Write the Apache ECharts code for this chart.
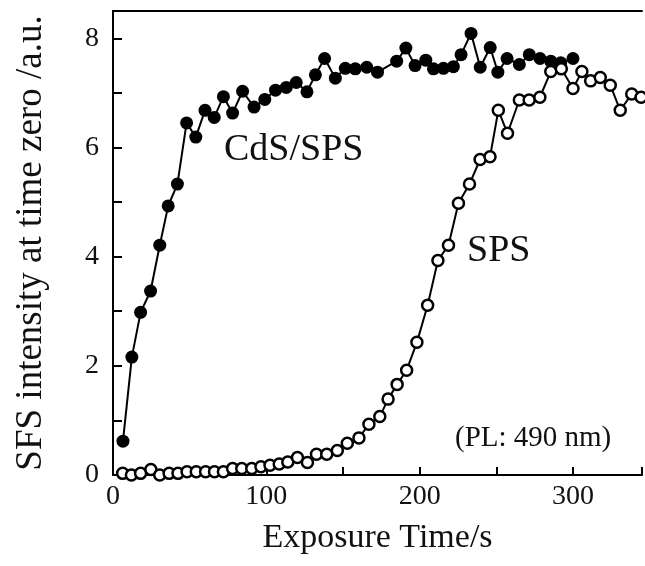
<!DOCTYPE html>
<html>
<head>
<meta charset="utf-8">
<script src="https://cdn.jsdelivr.net/npm/echarts@6/dist/echarts.min.js"></script>
<style>html,body{margin:0;padding:0;background:#fff;}#c{width:645px;height:566px;}</style>
</head>
<body>
<div id="c"></div>
<script>
var cdsTime = [6.5,12.3,18,24.5,30.5,36,42,48,54,60,66,72,78,84.5,92,99,106,113,119.5,126.5,132,138,145,151.5,158,165.5,172.5,185,191,197,204,209,215.5,222,227,233.5,239.5,246,251,257,265,271.5,278.5,285.5,292,300];
var cdsVal = [0.62,2.16,2.98,3.37,4.21,4.93,5.33,6.45,6.19,6.68,6.55,6.93,6.63,7.03,6.74,6.88,7.05,7.1,7.19,7.02,7.33,7.63,7.27,7.45,7.44,7.47,7.38,7.58,7.82,7.5,7.6,7.44,7.45,7.48,7.7,8.09,7.47,7.83,7.38,7.63,7.52,7.7,7.63,7.58,7.55,7.63];
var spsTime = [6.3,12,18,24.7,30.5,36.6,42.4,48.3,54.3,60.4,66.2,72,78,84,90.5,96.5,102.4,108.4,114,120.3,126.8,132.7,139.4,146.3,152.8,160.4,166.9,174,179.4,185.3,191.5,198.2,205.2,211.9,218.8,225.3,232.5,239.4,245.9,251.3,257.3,265,271.4,278.4,285.5,292.4,300,305.8,311.5,317.8,324.3,330.8,338.3,344.4];
var spsVal = [0.03,0.0,0.03,0.10,0.0,0.03,0.03,0.06,0.06,0.06,0.06,0.06,0.12,0.12,0.12,0.15,0.18,0.2,0.24,0.32,0.23,0.38,0.38,0.45,0.58,0.68,0.93,1.07,1.39,1.66,1.92,2.43,3.11,3.93,4.21,4.98,5.33,5.78,5.83,6.68,6.26,6.87,6.87,6.92,7.39,7.44,7.08,7.39,7.22,7.28,7.14,6.68,6.98,6.92];
var xLabels = [0,100,200,300];
var yLabels = [0,2,4,6,8];
var labelCds = 'CdS/SPS';
var labelSps = 'SPS';
var labelPL = '(PL: 490 nm)';
var xName = 'Exposure Time/s';
var yName = 'SFS intensity at time zero /a.u.';

function zip(a, b) { return a.map(function (v, i) { return [v, b[i]]; }); }

var font = '"Liberation Serif", "Times New Roman", serif';
var chart = echarts.init(document.getElementById('c'), null, {renderer: 'canvas'});
chart.setOption({
  animation: false,
  backgroundColor: '#fff',
  grid: {left: 113, top: 11, right: 0, bottom: 91, containLabel: false},
  xAxis: [{
    type: 'value', min: 0, max: 345, interval: 50,
    name: xName, nameLocation: 'middle', nameGap: 46,
    nameTextStyle: {fontFamily: font, fontSize: 34, color: '#111'},
    axisLine: {show: true, lineStyle: {color: '#000', width: 2}},
    axisTick: {show: true, inside: true, length: 8, lineStyle: {color: '#000', width: 2}},
    axisLabel: {fontFamily: font, fontSize: 28, color: '#111', margin: 8,
      formatter: function (v) { return xLabels.indexOf(v) >= 0 ? String(v) : ''; }},
    splitLine: {show: false}
  }, {
    type: 'value', position: 'top', min: 0, max: 345,
    axisLine: {show: true, lineStyle: {color: '#000', width: 2}},
    axisTick: {show: false}, axisLabel: {show: false}, splitLine: {show: false}
  }],
  yAxis: {
    type: 'value', min: 0, max: 8.5, interval: 1,
    name: yName, nameLocation: 'middle', nameGap: 63,
    nameTextStyle: {fontFamily: font, fontSize: 37, color: '#111'},
    axisLine: {show: true, lineStyle: {color: '#000', width: 2}},
    axisTick: {show: true, inside: true, length: 9, lineStyle: {color: '#000', width: 2}},
    axisLabel: {fontFamily: font, fontSize: 28, color: '#111', margin: 14,
      formatter: function (v) { return yLabels.indexOf(v) >= 0 ? String(v) : ''; }},
    splitLine: {show: false}
  },
  series: [{
    type: 'line', data: zip(cdsTime, cdsVal), clip: false,
    symbol: 'circle', symbolSize: 13,
    lineStyle: {color: '#000', width: 2},
    itemStyle: {color: '#000', borderColor: '#000', borderWidth: 0},
    z: 3
  }, {
    type: 'line', data: zip(spsTime, spsVal), clip: false,
    symbol: 'circle', symbolSize: 11,
    lineStyle: {color: '#000', width: 2},
    itemStyle: {color: '#fff', borderColor: '#000', borderWidth: 2.5},
    z: 4
  }],
  graphic: [
    {type: 'text', left: 224, top: 131, style: {text: labelCds, font: '38px ' + font, fill: '#111'}},
    {type: 'text', left: 467, top: 232, style: {text: labelSps, font: '38px ' + font, fill: '#111'}},
    {type: 'text', left: 455, top: 424, style: {text: labelPL, font: '29px ' + font, fill: '#111'}}
  ]
});
</script>
</body>
</html>
